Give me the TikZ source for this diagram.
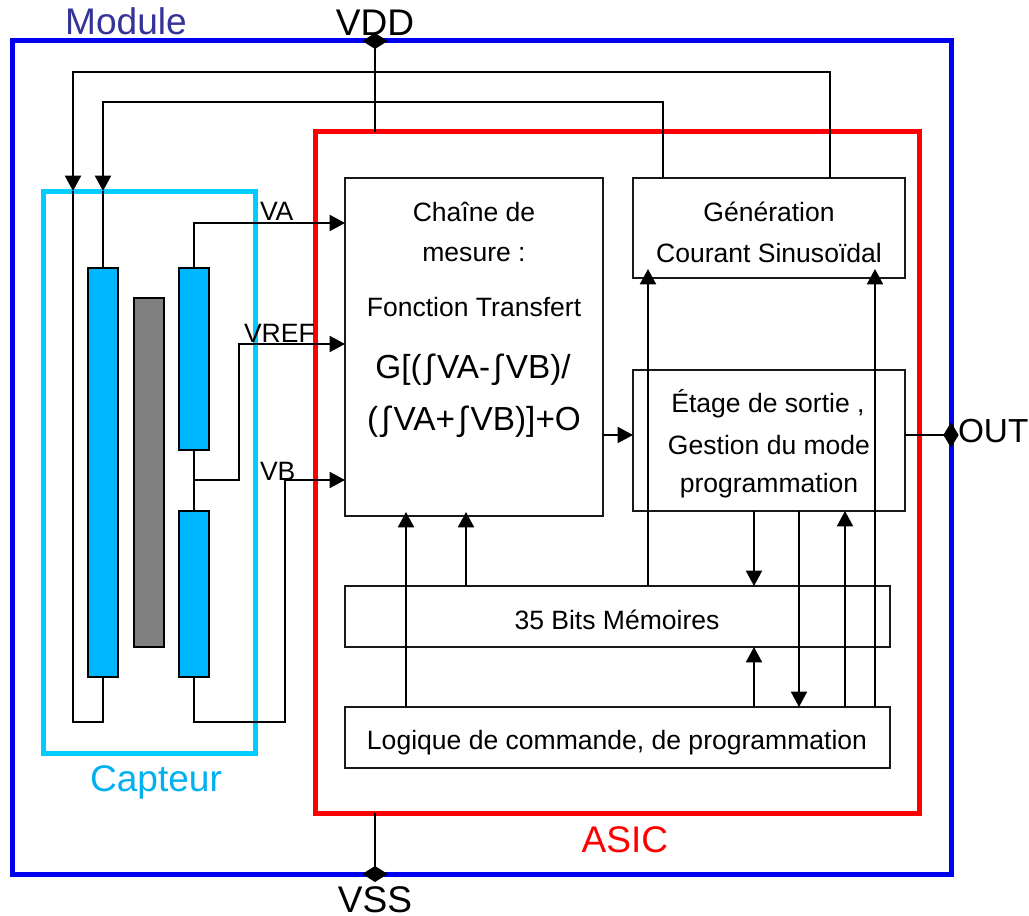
\documentclass[tikz,border=0pt]{standalone}
\usepackage{fontspec}
\setmainfont{Liberation Sans}
\usetikzlibrary{arrows.meta,shapes.geometric}
\definecolor{modblue}{RGB}{0,0,240}
\definecolor{modtext}{RGB}{51,51,153}
\definecolor{capcyan}{RGB}{0,204,255}
\definecolor{captext}{RGB}{0,176,240}
\definecolor{elec}{RGB}{0,183,255}
\definecolor{gris}{RGB}{128,128,128}
\tikzset{
  frame/.style={draw,line width=3.75pt,inner sep=0pt,outer sep=0pt},
  blockbox/.style={draw=black!90,line width=1.6pt,inner sep=0pt,outer sep=0pt},
  plate/.style={draw=black,line width=2pt,inner sep=0pt,outer sep=0pt},
  wire/.style={draw=black,line width=1.5pt},
  arr/.style={wire,-{Triangle[length=11.5pt,width=12pt]}},
  pin/.style={diamond,fill=black,inner sep=0pt,outer sep=0pt,minimum width=19pt,minimum height=12pt},
  pinv/.style={diamond,fill=black,inner sep=0pt,outer sep=0pt,minimum width=11.5pt,minimum height=19pt},
  txt/.style={anchor=base,inner sep=0pt,outer sep=0pt,font=\fontsize{19.9}{22}\selectfont},
  big/.style={anchor=base,inner sep=0pt,outer sep=0pt,font=\fontsize{27.8}{30}\selectfont},
  mid/.style={anchor=base,inner sep=0pt,outer sep=0pt,font=\fontsize{25}{28}\selectfont},
}
\newcommand{\rectnode}[6]{%
  \node[#6,minimum width={(#4-#2)*0.75pt},minimum height={(#5-#3)*0.75pt}] (#1) at ({(#2+#4)/2},{(#3+#5)/2}) {};}
\newcommand{\integ}{\kern2.4pt∫\kern2.4pt}
\begin{document}
\begin{tikzpicture}[x=0.75pt,y=-0.75pt]
\useasboundingbox (0,0) rectangle (1029,916);
% frames
\rectnode{module}{12}{41}{951}{874}{frame,draw=modblue}
\rectnode{capteur}{43}{192}{255}{753}{frame,draw=capcyan}
\rectnode{asic}{315}{132}{919}{813}{frame,draw=red}
% sensor plates
\rectnode{pL}{88}{268}{118}{677}{plate,fill=elec}
\rectnode{pG}{134}{298}{164}{647}{plate,fill=gris}
\rectnode{pA}{179}{268}{209}{450}{plate,fill=elec}
\rectnode{pB}{179}{511}{209}{677}{plate,fill=elec}
% blocks
\rectnode{mes}{345}{178}{603}{516}{blockbox}
\rectnode{gen}{633}{178}{905}{278}{blockbox}
\rectnode{eta}{633}{370}{905}{511}{blockbox}
\rectnode{mem}{345}{586}{890}{647}{blockbox}
\rectnode{log}{345}{707}{890}{768}{blockbox}
% pins
\node[pin] (vdd) at (375,41) {};
\node[pin] (vss) at (375,874) {};
\node[pinv] (out) at (951,435) {};
% routing guides
\foreach \v in {73,103,194,239,285,375,406,466,648,663,754,799,830,845,875}
  \coordinate (x\v) at (\v,0);
\foreach \v in {72,102,191,223,269,344,435,480,512,722}
  \coordinate (y\v) at (0,\v);
% supply
\draw[wire] (vdd.center) -- (x375 |- asic.north);
\draw[wire] (asic.south -| x375) -- (vss.center);
\draw[wire] (y435 -| eta.east) -- (out.center);
% excitation loops
\draw[arr] (x830 |- gen.north) -- (x830 |- y72) -- (x73 |- y72) -- (x73 |- y191);
\draw[wire] (x73 |- y191) -- (x73 |- y722) -- (x103 |- y722) -- (pL.south -| x103);
\draw[arr] (x663 |- gen.north) -- (x663 |- y102) -- (x103 |- y102) -- (x103 |- y191);
\draw[wire] (x103 |- y191) -- (pL.north -| x103);
% sense lines
\draw[arr] (pA.north -| x194) -- (x194 |- y223) -- (y223 -| mes.west);
\draw[wire] (pA.south -| x194) -- (pB.north -| x194);
\draw[arr] (x194 |- y480) -- (x239 |- y480) -- (x239 |- y344) -- (y344 -| mes.west);
\draw[arr] (pB.south -| x194) -- (x194 |- y722) -- (x285 |- y722) -- (x285 |- y480) -- (y480 -| mes.west);
% block links
\draw[arr] (y435 -| mes.east) -- (y435 -| eta.west);
\draw[arr] (x406 |- log.north) -- (x406 |- y512);
\draw[arr] (x466 |- mem.north) -- (x466 |- y512);
\draw[arr] (x648 |- mem.north) -- (x648 |- y269);
\draw[arr] (x875 |- log.north) -- (x875 |- y269);
\draw[arr] (x754 |- eta.south) -- (x754 |- mem.north);
\draw[arr] (x799 |- eta.south) -- (x799 |- log.north);
\draw[arr] (x845 |- log.north) -- (x845 |- eta.south);
\draw[arr] (x754 |- log.north) -- (x754 |- mem.south);
% text
\node[big,text=modtext] (tmod) at (126,35) {Module};
\node[big] (tvdd) at (375,36) {VDD};
\node[big] (tvss) at (375,912) {VSS};
\node[big,anchor=base west,font=\fontsize{25}{28}\selectfont] (tout) at (958,443) {OUT};
\node[big,text=red] (tasic) at (625,852) {ASIC};
\node[big,text=captext] (tcap) at (156,791) {Capteur};
\node[txt,anchor=base west] (tva) at (260,221) {VA};
\node[txt,anchor=base west] (tvr) at (244,343) {VREF};
\node[txt,anchor=base west] (tvb) at (260,480) {VB};
\node[txt] (m1) at (474,222) {Chaîne de};
\node[txt] (m2) at (474,262) {mesure :};
\node[txt] (m3) at (474,317) {Fonction Transfert};
\node[mid] (m4) at (473,379) {G[(\integ VA-\integ VB)/};
\node[mid] (m5) at (474,431) {(\integ VA+\integ VB)]+O};
\node[txt] (g1) at (769,222) {Génération};
\node[txt] (g2) at (769,263) {Courant Sinusoïdal};
\node[txt] (e1) at (768,413) {Étage de sortie ,};
\node[txt] (e2) at (769,455) {Gestion du mode};
\node[txt] (e3) at (769,493) {programmation};
\node[txt] (b1) at (617,629) {35 Bits Mémoires};
\node[txt] (l1) at (617,749) {Logique de commande, de programmation};
\end{tikzpicture}
\end{document}
